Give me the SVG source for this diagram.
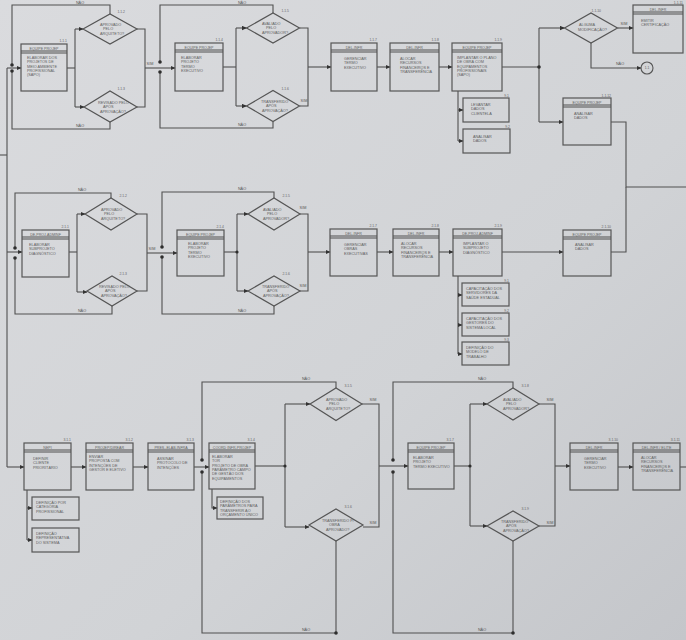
<svg xmlns="http://www.w3.org/2000/svg" width="686" height="640" viewBox="0 0 686 640">
<defs>
<linearGradient id="bg" x1="0" y1="0" x2="1" y2="1">
<stop offset="0" stop-color="#dadbde"/>
<stop offset="0.6" stop-color="#d1d3d6"/>
<stop offset="1" stop-color="#c4c6ca"/>
</linearGradient>
<marker id="ar" markerUnits="userSpaceOnUse" markerWidth="5" markerHeight="5" refX="4.5" refY="2.5" orient="auto">
<path d="M0,0.3 L5,2.5 L0,4.7 z" fill="#333"/>
</marker>
<style>
.box{fill:none;stroke:#555;stroke-width:1.2}
.ln{fill:none;stroke:#505050;stroke-width:1.1}
.dm{fill:none;stroke:#555;stroke-width:1.2}
.t{font-family:"Liberation Sans",Arial,sans-serif;font-size:3.8px;fill:#5e5e5e}
.hd{font-family:"Liberation Sans",Arial,sans-serif;font-size:3.6px;fill:#5e5e5e;text-anchor:middle}
.n{font-family:"Liberation Sans",Arial,sans-serif;font-size:3.4px;fill:#666;text-anchor:end}
.lb{font-family:"Liberation Sans",Arial,sans-serif;font-size:3.8px;fill:#555;text-anchor:middle}
.dot{fill:#2e2e2e}
</style>
</defs>
<rect width="686" height="640" fill="url(#bg)"/>

<!-- connectors -->
<g id="connectors" class="ln">
<path d="M0,155 H7"/>
<path d="M7,68 V467"/>
<path d="M7,68 H21" marker-end="url(#ar)"/>
<path d="M7,252 H22" marker-end="url(#ar)"/>
<path d="M7,467 H24" marker-end="url(#ar)"/>
<!-- row 1 -->
<path d="M110,14 V5 H12 V65"/>
<path d="M110,122 V129 H12 V71"/>
<path d="M67,68 H75"/>
<path d="M75,29 V107"/>
<path d="M75,29 H83" marker-end="url(#ar)"/>
<path d="M75,107 H84" marker-end="url(#ar)"/>
<path d="M137,29 H145 V107 H137"/>
<path d="M145,68 H175" marker-end="url(#ar)"/>
<path d="M273,13 V5 H160 V62"/>
<path d="M273,121.5 V128 H160 V72"/>
<path d="M223,67 H236"/>
<path d="M236,28 V106"/>
<path d="M236,28 H246.5" marker-end="url(#ar)"/>
<path d="M236,106 H246.5" marker-end="url(#ar)"/>
<path d="M299.5,28 H308 V106 H299.5"/>
<path d="M308,67 H331" marker-end="url(#ar)"/>
<path d="M377,67 H390" marker-end="url(#ar)"/>
<path d="M439,67 H452" marker-end="url(#ar)"/>
<path d="M502,67 H539"/>
<path d="M539,28 V122"/>
<path d="M539,28 H564.5" marker-end="url(#ar)"/>
<path d="M539,122 H563" marker-end="url(#ar)"/>
<path d="M617.5,28 H633" marker-end="url(#ar)"/>
<path d="M591,43 V68 H641" marker-end="url(#ar)"/>
<path d="M611,122 H626 V187 H686"/>
<path d="M458,91 V141"/>
<path d="M458,110 H463" marker-end="url(#ar)"/>
<path d="M458,141 H463" marker-end="url(#ar)"/>
<!-- row 2 -->
<path d="M111,198 V193 H15 V248"/>
<path d="M112,306 V314 H15 V258"/>
<path d="M69,252 H77"/>
<path d="M77,214 V292"/>
<path d="M77,214 H85" marker-end="url(#ar)"/>
<path d="M77,292 H87" marker-end="url(#ar)"/>
<path d="M137,214 H147 V291 H137"/>
<path d="M147,253 H177" marker-end="url(#ar)"/>
<path d="M274,198 V192 H162 V247"/>
<path d="M274,306 V314 H162 V257"/>
<path d="M224,252 H237"/>
<path d="M237,214 V291"/>
<path d="M237,214 H248" marker-end="url(#ar)"/>
<path d="M237,291 H248" marker-end="url(#ar)"/>
<path d="M300,214 H308 V291 H300"/>
<path d="M308,252 H330" marker-end="url(#ar)"/>
<path d="M377,252 H393" marker-end="url(#ar)"/>
<path d="M439,252 H453" marker-end="url(#ar)"/>
<path d="M502,252 H563" marker-end="url(#ar)"/>
<path d="M458,276 V354"/>
<path d="M458,295 H462" marker-end="url(#ar)"/>
<path d="M458,325 H462" marker-end="url(#ar)"/>
<path d="M458,354 H462" marker-end="url(#ar)"/>
<path d="M611,252 H626 V187"/>
<!-- row 3 -->
<path d="M71,467 H86" marker-end="url(#ar)"/>
<path d="M27,490 V540"/>
<path d="M27,508 H32" marker-end="url(#ar)"/>
<path d="M27,540 H32" marker-end="url(#ar)"/>
<path d="M133,467 H148" marker-end="url(#ar)"/>
<path d="M194,467 H209" marker-end="url(#ar)"/>
<path d="M336,388 V382 H202 V460"/>
<path d="M336,541 V633 H202 V472"/>
<path d="M212,489 V508 H217" marker-end="url(#ar)"/>
<path d="M255,466 H285"/>
<path d="M285,404 V527"/>
<path d="M285,404 H310" marker-end="url(#ar)"/>
<path d="M285,527 H309" marker-end="url(#ar)"/>
<path d="M362,404 H379 V527 H363"/>
<path d="M379,466 H408" marker-end="url(#ar)"/>
<path d="M513,388 V382 H393 V460"/>
<path d="M513,541 V633 H393 V472"/>
<path d="M454,466 H470"/>
<path d="M470,404 V526"/>
<path d="M470,404 H487" marker-end="url(#ar)"/>
<path d="M470,526 H487" marker-end="url(#ar)"/>
<path d="M539,404 H555 V526 H539"/>
<path d="M555,466 H570" marker-end="url(#ar)"/>
<path d="M618,467 H633" marker-end="url(#ar)"/>
<path d="M680,467 H686"/>
</g>

<g id="junctions">
<circle class="dot" cx="12" cy="65" r="1.8"/><circle class="dot" cx="12" cy="71" r="1.8"/>
<circle class="dot" cx="160" cy="62" r="1.8"/><circle class="dot" cx="160" cy="72" r="1.8"/>
<circle class="dot" cx="539" cy="67" r="1.8"/>
<circle class="dot" cx="15" cy="248" r="1.8"/><circle class="dot" cx="15" cy="258" r="1.8"/>
<circle class="dot" cx="162" cy="247" r="1.8"/><circle class="dot" cx="162" cy="257" r="1.8"/>
<circle class="dot" cx="202" cy="460" r="1.8"/><circle class="dot" cx="202" cy="472" r="1.8"/>
<circle class="dot" cx="393" cy="460" r="1.8"/><circle class="dot" cx="393" cy="472" r="1.8"/>
<circle class="dot" cx="336" cy="633" r="1.8"/><circle class="dot" cx="513" cy="633" r="1.8"/>
<circle class="dot" cx="237" cy="252" r="1.6"/><circle class="dot" cx="285" cy="466" r="1.6"/>
<circle class="dot" cx="470" cy="466" r="1.6"/>
</g>

<g id="labels">
<text class="lb" x="80" y="3.5">NÃO</text>
<text class="lb" x="80" y="127">NÃO</text>
<text class="lb" x="150" y="65">SIM</text>
<text class="lb" x="242" y="3.5">NÃO</text>
<text class="lb" x="242" y="126">NÃO</text>
<text class="lb" x="304" y="102">SIM</text>
<text class="lb" x="624" y="25">SIM</text>
<text class="lb" x="620" y="65">NÃO</text>
<text class="lb" x="82" y="191">NÃO</text>
<text class="lb" x="82" y="312">NÃO</text>
<text class="lb" x="152" y="250">SIM</text>
<text class="lb" x="242" y="190">NÃO</text>
<text class="lb" x="242" y="312">NÃO</text>
<text class="lb" x="303" y="209">SIM</text>
<text class="lb" x="303" y="287">SIM</text>
<text class="lb" x="306" y="380">NÃO</text>
<text class="lb" x="306" y="631">NÃO</text>
<text class="lb" x="373" y="401">SIM</text>
<text class="lb" x="373" y="524">SIM</text>
<text class="lb" x="482" y="380">NÃO</text>
<text class="lb" x="482" y="631">NÃO</text>
<text class="lb" x="550" y="401">SIM</text>
<text class="lb" x="550" y="524">SIM</text>
</g>

<!-- row 1 nodes -->
<g id="n111">
<rect class="box" x="21" y="44" width="46" height="47"/>
<path class="ln" d="M21,51 H67 M21,53 H67"/>
<text class="hd" x="44" y="49.5">EQUIPE PROJEP</text>
<text class="t" x="27" y="59">ELABORAR DOS</text>
<text class="t" x="27" y="63.3">PROJETOS DE</text>
<text class="t" x="27" y="67.6">MEIO AMBIENTE</text>
<text class="t" x="27" y="71.9">PROFISSIONAL</text>
<text class="t" x="27" y="76.2">(SAPO)</text>
<text class="n" x="67" y="42">1.1.1</text>
</g>
<g id="d112">
<polygon class="dm" points="83,29 110,14 137,29 110,44"/>
<text class="t" x="100" y="25.5">APROVADO</text>
<text class="t" x="103" y="30">PELO</text>
<text class="t" x="100" y="34.5">ARQUITETO?</text>
<text class="n" x="125" y="13">1.1.2</text>
</g>
<g id="d113">
<polygon class="dm" points="84,107 110,91 137,107 110,122"/>
<text class="t" x="98" y="103.5">REVISADO PELO</text>
<text class="t" x="103" y="108">APÓS</text>
<text class="t" x="100" y="112.5">APROVAÇÃO?</text>
<text class="n" x="125" y="90">1.1.3</text>
</g>
<g id="n114">
<rect class="box" x="175" y="43" width="48" height="48"/>
<path class="ln" d="M175,50 H223 M175,52 H223"/>
<text class="hd" x="199" y="48.5">EQUIPE PROJEP</text>
<text class="t" x="181" y="59">ELABORAR</text>
<text class="t" x="181" y="63.3">PROJETO</text>
<text class="t" x="181" y="67.6">TERMO</text>
<text class="t" x="181" y="71.9">EXECUTIVO</text>
<text class="n" x="223" y="41">1.1.4</text>
</g>
<g id="d115">
<polygon class="dm" points="246.5,28 273,13 299.5,28 273,43"/>
<text class="t" x="262" y="24.5">AVALIADO</text>
<text class="t" x="266" y="29">PELO</text>
<text class="t" x="262" y="33.5">APROVADOR?</text>
<text class="n" x="289" y="12">1.1.5</text>
</g>
<g id="d116">
<polygon class="dm" points="246.5,106 273,90.5 299.5,106 273,121.5"/>
<text class="t" x="261" y="102.5">TRANSFERIDO</text>
<text class="t" x="266" y="107">APÓS</text>
<text class="t" x="262" y="111.5">APROVAÇÃO?</text>
<text class="n" x="289" y="89.5">1.1.6</text>
</g>
<g id="n117">
<rect class="box" x="331" y="43" width="46" height="48"/>
<path class="ln" d="M331,50 H377 M331,52 H377"/>
<text class="hd" x="354" y="48.5">DEL-INFR</text>
<text class="t" x="344" y="60">GERENCIAR</text>
<text class="t" x="344" y="64.3">TERMO</text>
<text class="t" x="344" y="68.6">EXECUTIVO</text>
<text class="n" x="377" y="41">1.1.7</text>
</g>
<g id="n118">
<rect class="box" x="390" y="43" width="49" height="48"/>
<path class="ln" d="M390,50 H439 M390,52 H439"/>
<text class="hd" x="414.5" y="48.5">DEL-INFR</text>
<text class="t" x="400" y="60">ALOCAR</text>
<text class="t" x="400" y="64.3">RECURSOS</text>
<text class="t" x="400" y="68.6">FINANCEIROS E</text>
<text class="t" x="400" y="72.9">TRANSFERÊNCIA</text>
<text class="n" x="439" y="41">1.1.8</text>
</g>
<g id="n119">
<rect class="box" x="452" y="43" width="50" height="48"/>
<path class="ln" d="M452,50 H502 M452,52 H502"/>
<text class="hd" x="477" y="48.5">EQUIPE PROJEP</text>
<text class="t" x="457" y="59">IMPLANTAR O PLANO</text>
<text class="t" x="457" y="63.3">DE OBRA COM</text>
<text class="t" x="457" y="67.6">EQUIPAMENTOS</text>
<text class="t" x="457" y="71.9">PROFISSIONAIS</text>
<text class="t" x="457" y="76.2">(SAPO)</text>
<text class="n" x="502" y="41">1.1.9</text>
</g>
<g id="s119a">
<rect class="box" x="463" y="98" width="46" height="24"/>
<text class="t" x="471" y="106">LEVANTAR</text>
<text class="t" x="471" y="110.3">DADOS</text>
<text class="t" x="471" y="114.6">CLIENTELA</text>
<text class="n" x="509" y="96.5">9.1</text>
</g>
<g id="s119b">
<rect class="box" x="463" y="129" width="47" height="24"/>
<text class="t" x="473" y="138">ANALISAR</text>
<text class="t" x="473" y="142.3">DADOS</text>
<text class="n" x="510" y="127.5">9.2</text>
</g>
<g id="d120">
<polygon class="dm" points="564.5,28 591,13 617.5,28 591,43"/>
<text class="t" x="579" y="26">ALGUMA</text>
<text class="t" x="578" y="30.5">MODIFICAÇÃO?</text>
<text class="n" x="601" y="12">1.1.10</text>
</g>
<g id="n121">
<rect class="box" x="633" y="5" width="50" height="48"/>
<path class="ln" d="M633,12 H683 M633,14 H683"/>
<text class="hd" x="658" y="10.5">DEL-INFR</text>
<text class="t" x="641" y="22">EMITIR</text>
<text class="t" x="641" y="26.3">CERTIFICAÇÃO</text>
<text class="n" x="683" y="3.5">1.1.11</text>
</g>
<g id="c122">
<circle cx="647" cy="68" r="6" fill="none" stroke="#555" stroke-width="1.1"/>
<text class="lb" x="647" y="69.3" style="font-size:3.2px">1.1</text>
</g>
<g id="n123">
<rect class="box" x="563" y="98" width="48" height="47"/>
<path class="ln" d="M563,105 H611 M563,107 H611"/>
<text class="hd" x="587" y="103.5">EQUIPE PROJEP</text>
<text class="t" x="574" y="115">ANALISAR</text>
<text class="t" x="574" y="119.3">DADOS</text>
<text class="n" x="611" y="96.5">1.1.12</text>
</g>

<!-- row 2 nodes -->
<g id="n211">
<rect class="box" x="22" y="230" width="47" height="47"/>
<path class="ln" d="M22,237 H69 M22,239 H69"/>
<text class="hd" x="45.5" y="235.5">DE-PROJ-ADMINF</text>
<text class="t" x="29" y="246">ELABORAR</text>
<text class="t" x="29" y="250.3">SUBPROJETO</text>
<text class="t" x="29" y="254.6">DIAGNÓSTICO</text>
<text class="n" x="69" y="228">2.1.1</text>
</g>
<g id="d212">
<polygon class="dm" points="85,214 111,198 137,214 111,230"/>
<text class="t" x="101" y="210.5">APROVADO</text>
<text class="t" x="104" y="215">PELO</text>
<text class="t" x="101" y="219.5">ARQUITETO?</text>
<text class="n" x="127" y="197">2.1.2</text>
</g>
<g id="d213">
<polygon class="dm" points="87,291 112,276 137,291 112,306"/>
<text class="t" x="99" y="287.5">REVISADO PELO</text>
<text class="t" x="105" y="292">APÓS</text>
<text class="t" x="101" y="296.5">APROVAÇÃO?</text>
<text class="n" x="127" y="275">2.1.3</text>
</g>
<g id="n214">
<rect class="box" x="177" y="230" width="47" height="46"/>
<path class="ln" d="M177,237 H224 M177,239 H224"/>
<text class="hd" x="200.5" y="235.5">EQUIPE PROJEP</text>
<text class="t" x="188" y="245">ELABORAR</text>
<text class="t" x="188" y="249.3">PROJETO</text>
<text class="t" x="188" y="253.6">TERMO</text>
<text class="t" x="188" y="257.9">EXECUTIVO</text>
<text class="n" x="224" y="228">2.1.4</text>
</g>
<g id="d215">
<polygon class="dm" points="248,214 274,198 300,214 274,230"/>
<text class="t" x="263" y="210.5">AVALIADO</text>
<text class="t" x="267" y="215">PELO</text>
<text class="t" x="263" y="219.5">APROVADOR?</text>
<text class="n" x="290" y="197">2.1.5</text>
</g>
<g id="d216">
<polygon class="dm" points="248,291 274,276 300,291 274,306"/>
<text class="t" x="262" y="287.5">TRANSFERIDO</text>
<text class="t" x="267" y="292">APÓS</text>
<text class="t" x="263" y="296.5">APROVAÇÃO?</text>
<text class="n" x="290" y="275">2.1.6</text>
</g>
<g id="n217">
<rect class="box" x="330" y="229" width="47" height="47"/>
<path class="ln" d="M330,236 H377 M330,238 H377"/>
<text class="hd" x="353.5" y="234.5">DEL-INFR</text>
<text class="t" x="344" y="246">GERENCIAR</text>
<text class="t" x="344" y="250.3">OBRAS</text>
<text class="t" x="344" y="254.6">EXECUTIVAS</text>
<text class="n" x="377" y="227">2.1.7</text>
</g>
<g id="n218">
<rect class="box" x="393" y="229" width="46" height="47"/>
<path class="ln" d="M393,236 H439 M393,238 H439"/>
<text class="hd" x="416" y="234.5">DEL-INFR</text>
<text class="t" x="401" y="245">ALOCAR</text>
<text class="t" x="401" y="249.3">RECURSOS</text>
<text class="t" x="401" y="253.6">FINANCEIROS E</text>
<text class="t" x="401" y="257.9">TRANSFERÊNCIA</text>
<text class="n" x="439" y="227">2.1.8</text>
</g>
<g id="n219">
<rect class="box" x="453" y="229" width="49" height="47"/>
<path class="ln" d="M453,236 H502 M453,238 H502"/>
<text class="hd" x="477.5" y="234.5">DE-PROJ-ADMINF</text>
<text class="t" x="463" y="245">IMPLANTAR O</text>
<text class="t" x="463" y="249.3">SUBPROJETO</text>
<text class="t" x="463" y="253.6">DIAGNÓSTICO</text>
<text class="n" x="502" y="227">2.1.9</text>
</g>
<g id="s219a">
<rect class="box" x="462" y="283" width="47" height="23"/>
<text class="t" x="466" y="290">CAPACITAÇÃO DOS</text>
<text class="t" x="466" y="294.3">SERVIDORES DA</text>
<text class="t" x="466" y="298.6">SAÚDE ESTADUAL</text>
<text class="n" x="509" y="281.5">9.1</text>
</g>
<g id="s219b">
<rect class="box" x="462" y="313" width="47" height="23"/>
<text class="t" x="466" y="320">CAPACITAÇÃO DOS</text>
<text class="t" x="466" y="324.3">GESTORES DO</text>
<text class="t" x="466" y="328.6">SISTEMA LOCAL</text>
<text class="n" x="509" y="311.5">9.2</text>
</g>
<g id="s219c">
<rect class="box" x="462" y="342" width="47" height="23"/>
<text class="t" x="466" y="349">DEFINIÇÃO DO</text>
<text class="t" x="466" y="353.3">MODELO DE</text>
<text class="t" x="466" y="357.6">TRABALHO</text>
<text class="n" x="509" y="340.5">9.3</text>
</g>
<g id="n220">
<rect class="box" x="563" y="230" width="48" height="46"/>
<path class="ln" d="M563,237 H611 M563,239 H611"/>
<text class="hd" x="587" y="235.5">EQUIPE PROJEP</text>
<text class="t" x="575" y="246">ANALISAR</text>
<text class="t" x="575" y="250.3">DADOS</text>
<text class="n" x="611" y="228">2.1.10</text>
</g>

<!-- row 3 nodes -->
<g id="n311">
<rect class="box" x="24" y="443" width="47" height="47"/>
<path class="ln" d="M24,450 H71 M24,452 H71"/>
<text class="hd" x="47.5" y="448.5">NEPI</text>
<text class="t" x="33" y="460">DEFINIR</text>
<text class="t" x="33" y="464.3">CLIENTE</text>
<text class="t" x="33" y="468.6">PRIORITÁRIO</text>
<text class="n" x="71" y="441">3.1.1</text>
</g>
<g id="s311a">
<rect class="box" x="32" y="497" width="47" height="23"/>
<text class="t" x="36" y="504">DEFINIÇÃO POR</text>
<text class="t" x="36" y="508.3">CATEGORIA</text>
<text class="t" x="36" y="512.6">PROFISSIONAL</text>
</g>
<g id="s311b">
<rect class="box" x="32" y="528" width="47" height="24"/>
<text class="t" x="36" y="535">DEFINIÇÃO</text>
<text class="t" x="36" y="539.3">REPRESENTATIVA</text>
<text class="t" x="36" y="543.6">DO SISTEMA</text>
</g>
<g id="n312">
<rect class="box" x="86" y="443" width="47" height="47"/>
<path class="ln" d="M86,450 H133 M86,452 H133"/>
<text class="hd" x="109.5" y="448.5">PROJEP/DIREAR</text>
<text class="t" x="89" y="458">ENVIAR</text>
<text class="t" x="89" y="462.3">PROPOSTA COM</text>
<text class="t" x="89" y="466.6">INTENÇÕES DE</text>
<text class="t" x="89" y="470.9">GESTOR E ELETIVO</text>
<text class="n" x="133" y="441">3.1.2</text>
</g>
<g id="n313">
<rect class="box" x="148" y="443" width="46" height="47"/>
<path class="ln" d="M148,450 H194 M148,452 H194"/>
<text class="hd" x="171" y="448.5">PRES.-ELAB-INFRA</text>
<text class="t" x="157" y="460">ASSINAR</text>
<text class="t" x="157" y="464.3">PROTOCOLO DE</text>
<text class="t" x="157" y="468.6">INTENÇÕES</text>
<text class="n" x="194" y="441">3.1.3</text>
</g>
<g id="n314">
<rect class="box" x="209" y="443" width="46" height="46"/>
<path class="ln" d="M209,450 H255 M209,452 H255"/>
<text class="hd" x="232" y="448.5">COORD INFR-PROJEP</text>
<text class="t" x="212" y="458">ELABORAR</text>
<text class="t" x="212" y="462.3">TOR</text>
<text class="t" x="212" y="466.6">PROJETO DE OBRA</text>
<text class="t" x="212" y="470.9">PARÂMETRO CAMPO</text>
<text class="t" x="212" y="475.2">DE GESTÃO DOS</text>
<text class="t" x="212" y="479.5">EQUIPAMENTOS</text>
<text class="n" x="255" y="441">3.1.4</text>
</g>
<g id="s314a">
<rect class="box" x="217" y="497" width="46" height="22"/>
<text class="t" x="220" y="503">DEFINIÇÃO DOS</text>
<text class="t" x="220" y="507.3">PARÂMETROS PARA</text>
<text class="t" x="220" y="511.6">TRANSFERIR AO</text>
<text class="t" x="220" y="515.9">ORÇAMENTO ÚNICO</text>
</g>
<g id="d315">
<polygon class="dm" points="310,404 336,388 362,404 336,420.5"/>
<text class="t" x="326" y="400.5">APROVADO</text>
<text class="t" x="329" y="405">PELO</text>
<text class="t" x="326" y="409.5">ARQUITETO?</text>
<text class="n" x="352" y="387">3.1.5</text>
</g>
<g id="d316">
<polygon class="dm" points="309,525 336,509 363,525 336,541"/>
<text class="t" x="322" y="521.5">TRANSFERIDO P/</text>
<text class="t" x="329" y="526">OBRA</text>
<text class="t" x="326" y="530.5">APROVADO?</text>
<text class="n" x="352" y="508">3.1.6</text>
</g>
<g id="n317">
<rect class="box" x="408" y="443" width="46" height="46"/>
<path class="ln" d="M408,450 H454 M408,452 H454"/>
<text class="hd" x="431" y="448.5">EQUIPE PROJEP</text>
<text class="t" x="413" y="459">ELABORAR</text>
<text class="t" x="413" y="463.3">PROJETO</text>
<text class="t" x="413" y="467.6">TERMO EXECUTIVO</text>
<text class="n" x="454" y="441">3.1.7</text>
</g>
<g id="d318">
<polygon class="dm" points="487,404 513,388 539,404 513,420"/>
<text class="t" x="503" y="400.5">AVALIADO</text>
<text class="t" x="506" y="405">PELO</text>
<text class="t" x="503" y="409.5">APROVADOR?</text>
<text class="n" x="529" y="387">3.1.8</text>
</g>
<g id="d319">
<polygon class="dm" points="487,526 513,511 539,526 513,541"/>
<text class="t" x="501" y="522.5">TRANSFERIDO</text>
<text class="t" x="506" y="527">APÓS</text>
<text class="t" x="503" y="531.5">APROVAÇÃO?</text>
<text class="n" x="529" y="510">3.1.9</text>
</g>
<g id="n320">
<rect class="box" x="570" y="443" width="48" height="47"/>
<path class="ln" d="M570,450 H618 M570,452 H618"/>
<text class="hd" x="594" y="448.5">DEL-INFR</text>
<text class="t" x="584" y="460">GERENCIAR</text>
<text class="t" x="584" y="464.3">TERMO</text>
<text class="t" x="584" y="468.6">EXECUTIVO</text>
<text class="n" x="618" y="441">3.1.10</text>
</g>
<g id="n321">
<rect class="box" x="633" y="443" width="47" height="47"/>
<path class="ln" d="M633,450 H680 M633,452 H680"/>
<text class="hd" x="656.5" y="448.5">DEL-INFR / ELITE</text>
<text class="t" x="641" y="459">ALOCAR</text>
<text class="t" x="641" y="463.3">RECURSOS</text>
<text class="t" x="641" y="467.6">FINANCEIROS E</text>
<text class="t" x="641" y="471.9">TRANSFERÊNCIA</text>
<text class="n" x="680" y="441">3.1.11</text>
</g>
</svg>
